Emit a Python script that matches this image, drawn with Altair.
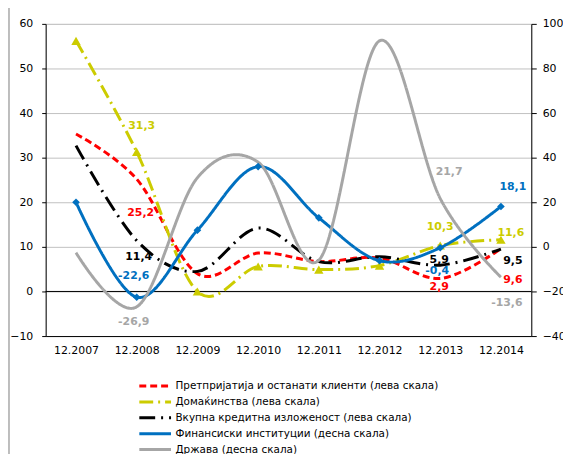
import altair as alt
import pandas as pd

dates = ["12.2007", "12.2008", "12.2009", "12.2010", "12.2011", "12.2012", "12.2013", "12.2014"]
names = [
    "Претпријатија и останати клиенти (лева скала)",
    "Домаќинства (лева скала)",
    "Вкупна кредитна изложеност (лева скала)",
    "Финансиски институции (десна скала)",
    "Држава (десна скала)",
]
sides = ["L", "L", "L", "R", "R"]

corp = [35.3, 25.2, 4.0, 8.6, 6.7, 7.5, 2.9, 9.6]
house = [56.2, 31.3, 0.0, 5.6, 4.9, 5.8, 10.3, 11.6]
total = [32.7, 11.4, 4.5, 14.2, 6.7, 7.8, 5.9, 9.5]
fin = [20.0, -22.6, 7.5, 36.0, 13.0, -6.2, -0.4, 18.1]
gov = [-2.6, -26.9, 31.0, 38.0, -6.0, 92.4, 21.7, -13.6]

corp_lbl = ["", "25,2", "", "", "", "", "2,9", "9,6"]
house_lbl = ["", "31,3", "", "", "", "", "10,3", "11,6"]
total_lbl = ["", "11,4", "", "", "", "", "5,9", "9,5"]
fin_lbl = ["", "-22,6", "", "", "", "", "-0,4", "18,1"]
gov_lbl = ["", "-26,9", "", "", "", "", "21,7", "-13,6"]

left_ticks = [-10, 0, 10, 20, 30, 40, 50, 60]
right_ticks = [-40, -20, 0, 20, 40, 60, 80, 100]

# ---- styles ----
FONT = "DejaVu Sans"
colors = ["#FF0000", "#CCCC00", "#000000", "#0070C0", "#A6A6A6"]
dashes = [[7, 4], [14, 5, 2, 5], [16, 6, 2, 6], [1, 0], [1, 0]]
widths = [3, 3, 3, 2, 4]

series_vals = [corp, house, total, fin, gov]
series_lbls = [corp_lbl, house_lbl, total_lbl, fin_lbl, gov_lbl]

rows = []
for name, side, vals, lbls in zip(names, sides, series_vals, series_lbls):
    for d, v, l in zip(dates, vals, lbls):
        rows.append({"date": d, "series": name, "side": side, "value": v, "label": l})
df = pd.DataFrame(rows)

# label offsets (dx, dy) in px per (series index, date index)
label_offsets = {
    (0, 1): (4, 34), (0, 6): (-1, 9), (0, 7): (12, 32),
    (1, 1): (5, -26), (1, 6): (0, -19), (1, 7): (10, -7),
    (2, 1): (2, 17), (2, 6): (-1, -5), (2, 7): (12, 12),
    (3, 1): (-3, -21), (3, 6): (-3, 23), (3, 7): (12, -20),
    (4, 1): (-3, 15), (4, 6): (9, -27), (4, 7): (6, 26),
}

base = alt.Chart(df)

x = alt.X("date:N", sort=dates, title=None,
          axis=alt.Axis(labelAngle=0, ticks=False, domain=True, domainColor="black",
                        labelPadding=9, labelFontSize=11, labelColor="black", labelFont=FONT,
                        grid=False))

yL = alt.Y("value:Q", title=None,
           scale=alt.Scale(domain=[-10, 60], nice=False, zero=False),
           axis=alt.Axis(values=left_ticks, orient="left", grid=True, gridColor="#C0C0C0",
                         tickSize=4, tickColor="black", domainColor="black", labelPadding=9,
                         labelFontSize=11, labelColor="black", labelFont=FONT, title=None))
yR = alt.Y("value:Q", title=None,
           scale=alt.Scale(domain=[-40, 100], nice=False, zero=False),
           axis=alt.Axis(values=right_ticks, orient="right", grid=False,
                         tickSize=5, tickColor="black", domainColor="black", labelPadding=6,
                         labelFontSize=11, labelColor="black", labelFont=FONT, title=None))

leg = alt.Legend(title=None, orient="none", legendX=105, legendY=360, direction="vertical",
                 labelFont=FONT, labelFontSize=10.5, labelColor="black",
                 symbolType="M-4,0H4", symbolStrokeWidth=3, symbolSize=64, padding=0,
                 labelOffset=15, rowPadding=3, labelLimit=400)
color = alt.Color("series:N", scale=alt.Scale(domain=names, range=colors), legend=leg)
dash = alt.StrokeDash("series:N", scale=alt.Scale(domain=names, range=dashes), legend=leg)
sw = alt.StrokeWidth("series:N", scale=alt.Scale(domain=names, range=widths), legend=None)

zero = base.transform_aggregate(n="count()").transform_calculate(value="0").mark_rule(
    color="black", strokeWidth=1).encode(y=yL)

frame = base.transform_aggregate(n="count()").mark_rule(color="#A8A8A8", strokeWidth=1.5).encode(
    x=alt.value(-37), y=alt.value(-16), y2=alt.value(440))

left_lines = base.transform_filter("datum.side == 'L'").mark_line(
    interpolate="cardinal").encode(x=x, y=yL, color=color, strokeDash=dash, strokeWidth=sw)
right_lines = base.transform_filter("datum.side == 'R'").mark_line(
    interpolate="cardinal").encode(x=x, y=yR, color=color, strokeDash=dash, strokeWidth=sw)

tri = base.transform_filter(f"datum.series == '{names[1]}'").mark_point(
    shape="triangle-up", filled=True, size=90, color=colors[1], opacity=1).encode(x=x, y=yL)
dia = base.transform_filter(f"datum.series == '{names[3]}'").mark_point(
    shape="diamond", filled=True, size=60, color=colors[3], opacity=1).encode(x=x, y=yR)

left_texts, right_texts = [], []
for (si, di), (dx, dy) in label_offsets.items():
    t = base.transform_filter(
        f"datum.series == '{names[si]}' && datum.date == '{dates[di]}'"
    ).mark_text(dx=dx, dy=dy, fontWeight="bold", fontSize=11, font=FONT, color=colors[si],
                align="center", baseline="middle").encode(
        x=x, y=yL if sides[si] == "L" else yR, text="label:N")
    (left_texts if sides[si] == "L" else right_texts).append(t)

left = alt.layer(frame, zero, left_lines, tri, *left_texts)
right = alt.layer(right_lines, dia, *right_texts)

chart = alt.layer(left, right).resolve_scale(y="independent").properties(
    width=490, height=315,
    autosize=alt.AutoSizeParams(type="none"),
    padding={"left": 38, "top": 14, "right": 32, "bottom": 117},
).configure_view(stroke="black", strokeWidth=1).configure(background="white")

chart.save("out.html", embed_options={"renderer": "svg", "actions": False})
